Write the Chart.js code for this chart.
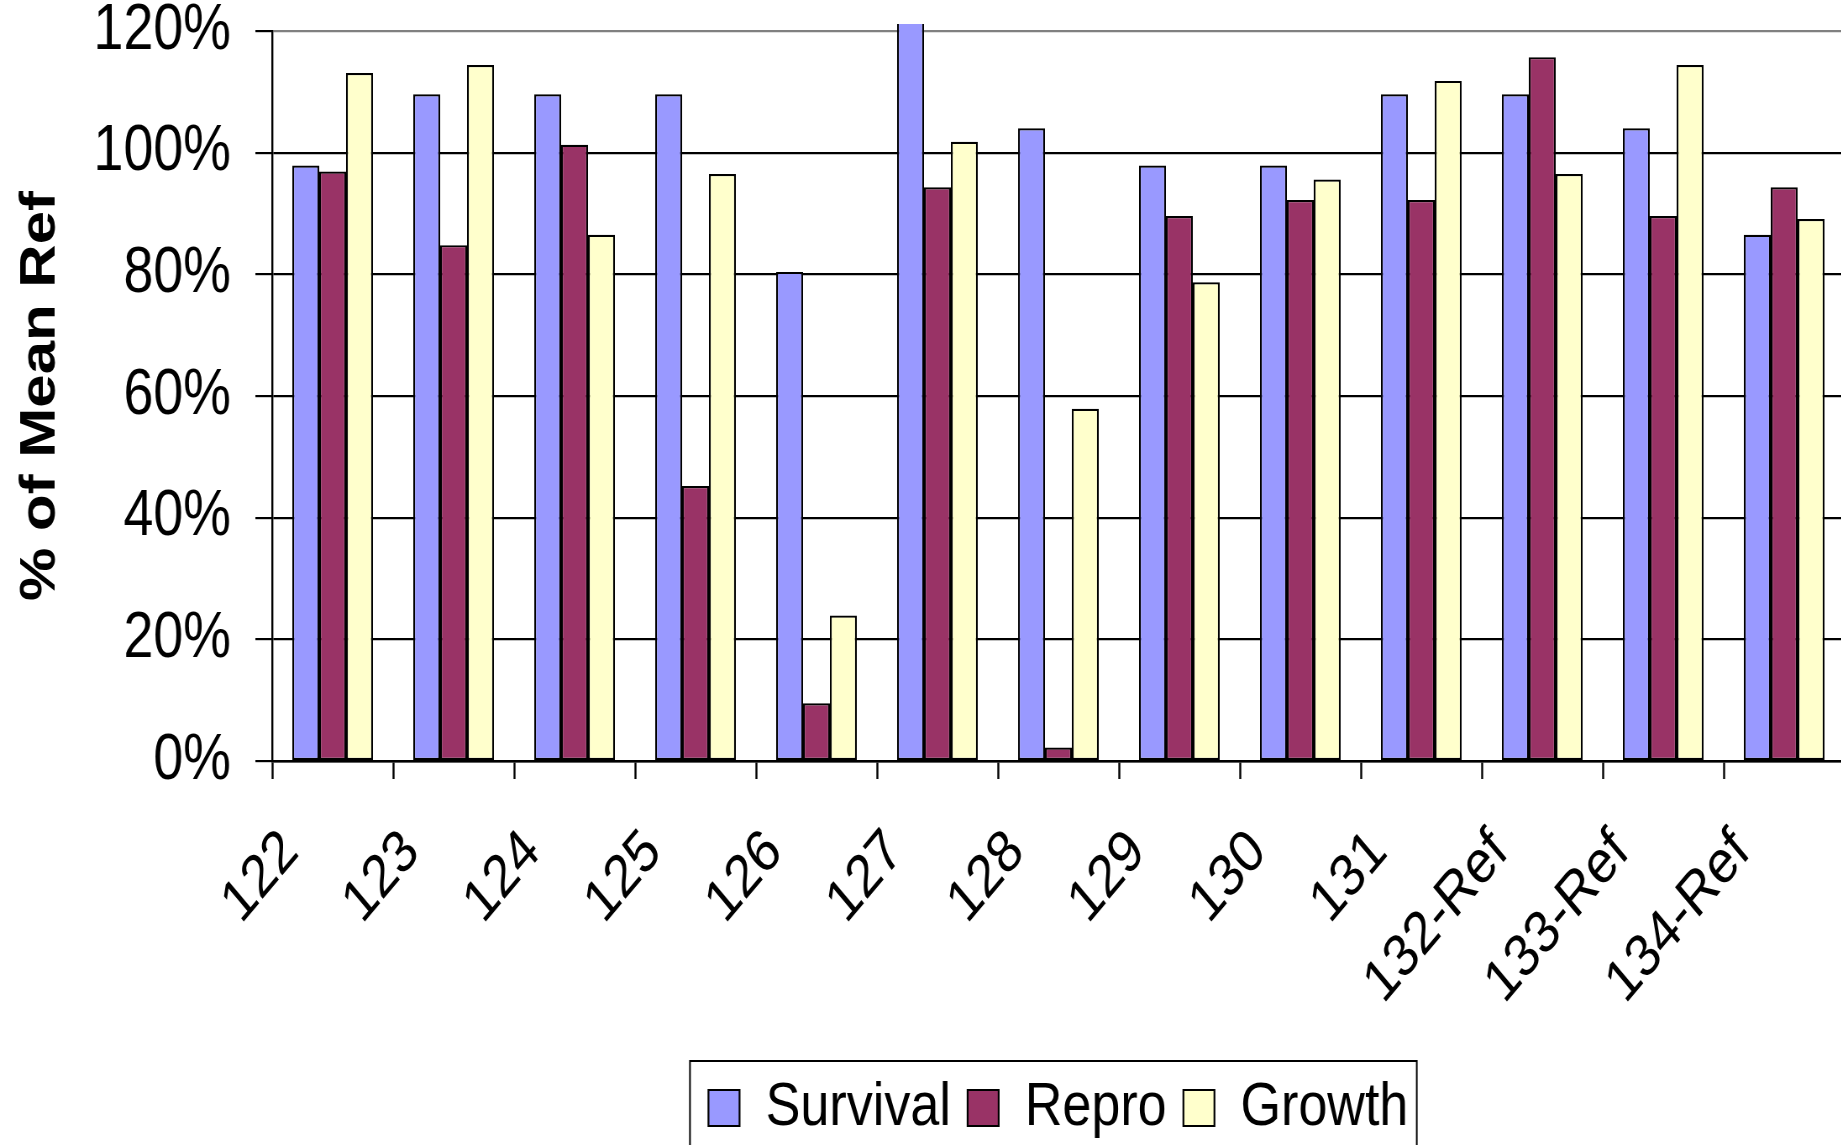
<!DOCTYPE html>
<html>
<head>
<meta charset="utf-8">
<title>% of Mean Ref</title>
<script src="https://cdn.jsdelivr.net/npm/chart.js@4.4.1/dist/chart.umd.min.js"></script>
<style>
  html, body { margin: 0; padding: 0; background: #ffffff; overflow: hidden; width: 1841px; height: 1145px; }
  /* the chart is laid out wide, then squeezed horizontally into the page */
  #frame { position: absolute; left: 0; top: 0; transform: scaleX(0.84); transform-origin: 0 0; }
  #chart { display: block; }
</style>
</head>
<body>
<div id="frame"><canvas id="chart" width="2196" height="1145"></canvas></div>
<script>
// Sites and the three endpoints, as % of the mean reference response
const categories = ['122', '123', '124', '125', '126', '127', '128', '129', '130', '131', '132-Ref', '133-Ref', '134-Ref'];
const survival = [97.9, 109.6, 109.6, 109.6, 80.4, 125, 104, 97.9, 97.9, 109.6, 109.6, 104, 86.5];
const repro    = [96.9, 84.8, 101.3, 45.2, 9.5, 94.3, 2.2, 89.6, 92.2, 92.2, 115.7, 89.6, 94.3];
const growth   = [113.1, 114.4, 86.5, 96.5, 23.9, 101.8, 57.9, 78.7, 95.6, 111.8, 96.5, 114.4, 89.1];
const percentTicks = [0, 20, 40, 60, 80, 100, 120];
const seriesNames = ['Survival', 'Repro', 'Growth'];
const seriesColors = ['#9999FF', '#993366', '#FFFFCC'];

Chart.defaults.font.family = '"Liberation Sans", Arial, Helvetica, sans-serif';
Chart.defaults.color = '#000000';

const barStyle = {
  borderColor: '#000000',
  borderWidth: 2.2,
  borderSkipped: false,
  categoryPercentage: 2 / 3,
  barPercentage: 1,
  clip: { left: 0, top: 7, right: 0, bottom: 0 }
};

// box drawn around the legend entries
const legendFrame = {
  id: 'legendFrame',
  afterDraw(chart) {
    const boxes = chart.legend && chart.legend.legendHitBoxes;
    if (!boxes || !boxes.length) return;
    const first = boxes[0];
    const last = boxes[boxes.length - 1];
    const x0 = first.left - 22;
    const x1 = last.left + last.width + 10;
    const y0 = first.top - 16;
    const ctx = chart.ctx;
    ctx.save();
    ctx.strokeStyle = '#000000';
    ctx.lineWidth = 2;
    ctx.strokeRect(x0, y0, x1 - x0, chart.height - y0 + 20);
    ctx.restore();
  }
};

new Chart(document.getElementById('chart'), {
  type: 'bar',
  data: {
    labels: categories,
    datasets: [survival, repro, growth].map((values, i) => Object.assign({
      label: seriesNames[i],
      data: values,
      backgroundColor: seriesColors[i]
    }, barStyle))
  },
  options: {
    responsive: false,
    animation: false,
    layout: { padding: { top: 31, left: 0, right: 0, bottom: -4 } },
    plugins: {
      tooltip: { enabled: false },
      legend: {
        position: 'bottom',
        fullSize: false,
        labels: {
          font: { size: 62, lineHeight: 1 },
          color: '#000000',
          boxWidth: 37,
          boxHeight: 36,
          padding: 20
        }
      }
    },
    scales: {
      x: {
        ticks: {
          minRotation: 45,
          maxRotation: 45,
          autoSkip: false,
          font: { size: 60, lineHeight: 1 },
          color: '#000000',
          padding: 42,
          labelOffset: -50
        },
        grid: {
          offset: true,
          drawOnChartArea: false,
          drawTicks: true,
          tickLength: 18,
          tickColor: '#000000',
          tickWidth: 2.4,
          color: '#000000'
        },
        border: { color: '#000000', width: 2.5 },
        afterFit(scale) {
          scale.height = 296;
          scale.paddingLeft = 0;
          scale.paddingRight = 0;
        }
      },
      y: {
        min: 0,
        max: 120,
        afterBuildTicks(scale) {
          scale.ticks = percentTicks.map(v => ({ value: v }));
        },
        ticks: {
          callback: v => v + '%',
          font: { size: 64, lineHeight: 1 },
          color: '#000000',
          padding: 29
        },
        grid: {
          color: ctx => (ctx.tick && ctx.tick.value === 120 ? '#808080' : '#000000'),
          lineWidth: 2.2,
          drawTicks: true,
          tickLength: 20,
          tickColor: '#000000',
          tickWidth: 2.2
        },
        border: { color: '#000000', width: 2.4 },
        title: {
          display: true,
          text: '% of Mean Ref',
          color: '#000000',
          font: { size: 60, weight: 'bold', lineHeight: 1 },
          padding: { top: 18, bottom: 0 }
        },
        afterFit(scale) {
          scale.width = 324;
          scale.paddingTop = 0;
          scale.paddingBottom = 0;
        }
      }
    }
  },
  plugins: [legendFrame]
});
</script>
</body>
</html>
